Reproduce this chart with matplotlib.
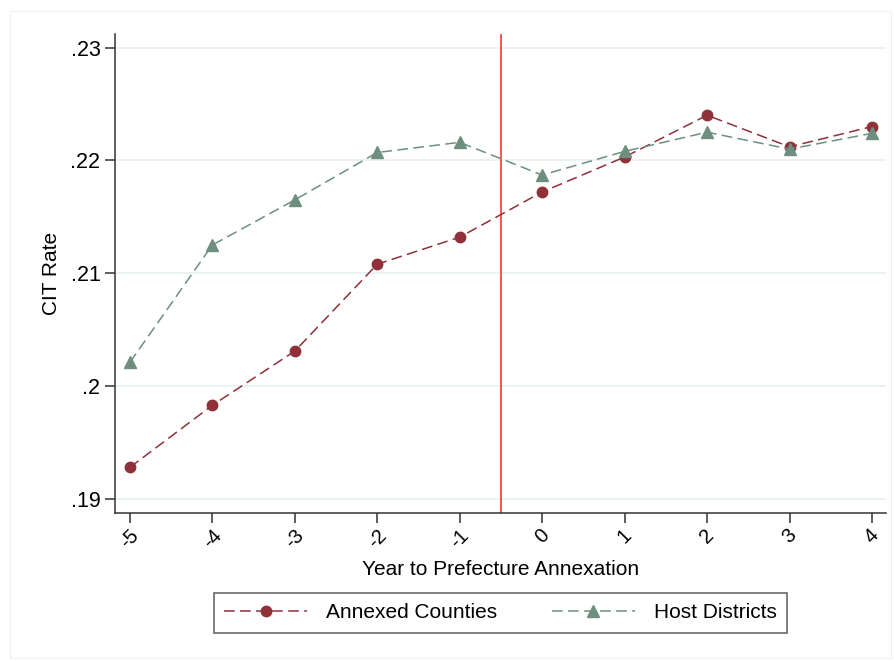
import matplotlib
matplotlib.use("Agg")
import matplotlib.pyplot as plt
from matplotlib.patches import Rectangle

# data
years = [-5, -4, -3, -2, -1, 0, 1, 2, 3, 4]
annexed = [0.1928, 0.1983, 0.2031, 0.2108, 0.2132, 0.2172, 0.2203, 0.2240, 0.2212, 0.2230]
host = [0.2021, 0.2125, 0.2165, 0.2207, 0.2216, 0.2187, 0.2208, 0.2225, 0.2210, 0.2224]
y_ticks = [0.19, 0.20, 0.21, 0.22, 0.23]
y_tick_labels = [".19", ".2", ".21", ".22", ".23"]

red = "#903038"
green = "#6e8f7f"

plt.rcParams["font.family"] = ["Liberation Sans", "DejaVu Sans"]

fig = plt.figure(figsize=(8.95, 6.61), dpi=100)
ax = fig.add_axes([0.1285, 0.2239, 0.8615, 0.7247])

# faint outer frame like the Stata graph region
fig.patches.append(Rectangle((0.011, 0.005), 0.985, 0.978, transform=fig.transFigure,
                             fill=False, edgecolor="#f0f0f0", linewidth=0.8))

ax.plot(years, annexed, color=red, linestyle=(0, (7, 3.5)), linewidth=1.1,
        marker="o", markersize=7.5, markeredgecolor=red, label="Annexed Counties", zorder=3)
ax.plot(years, host, color=green, linestyle=(0, (7, 3.5)), linewidth=1.1,
        marker="^", markersize=8, markeredgecolor=green, label="Host Districts", zorder=3)

ax.axvline(-0.5, color="#ff3535", linewidth=1.2, zorder=2)

ax.set_xlim(-5.18, 4.17)
ax.set_ylim(0.18876, 0.2312)
ax.set_yticks(y_ticks)
ax.set_yticklabels(y_tick_labels, fontsize=15.5)
ax.set_xticks(years)
ax.set_xticklabels([str(y) for y in years], rotation=45, ha="center", fontsize=14.5)

ax.grid(axis="y", color="#e8f0f1", linewidth=1.2)
ax.set_axisbelow(True)
for side in ["top", "right"]:
    ax.spines[side].set_visible(False)
for side in ["left", "bottom"]:
    ax.spines[side].set_color("#333333")
    ax.spines[side].set_linewidth(1.1)
ax.tick_params(axis="both", direction="out", length=7, width=1.1, color="#333333")
ax.tick_params(axis="x", pad=2)

ax.set_xlabel("Year to Prefecture Annexation", fontsize=15, labelpad=6)
ax.set_ylabel("CIT Rate", fontsize=15, labelpad=7)

leg = fig.legend(loc="center", bbox_to_anchor=(0.559, 0.073), ncol=2, fontsize=15,
                 frameon=True, fancybox=False, edgecolor="#333333", handlelength=4.0,
                 columnspacing=2.6, handletextpad=0.9, borderpad=0.5)
leg.get_frame().set_linewidth(1.1)

fig.savefig("out.png", dpi=100)
